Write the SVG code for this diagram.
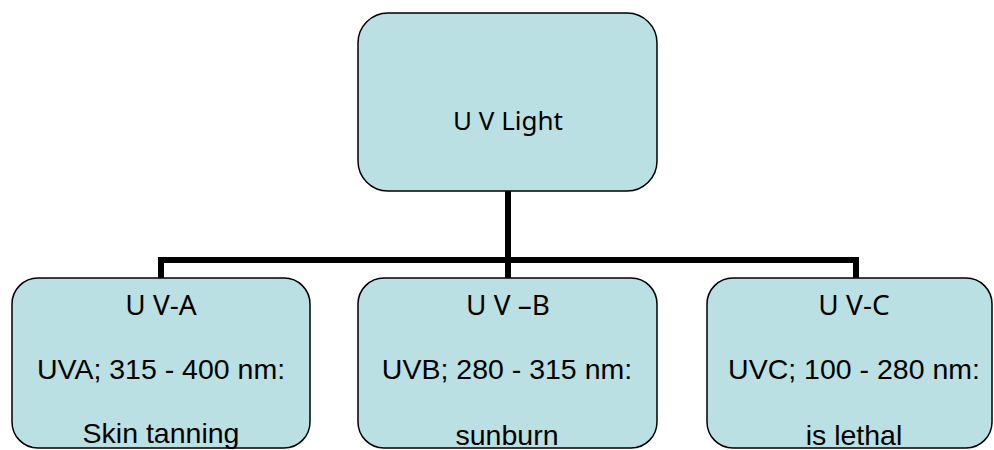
<svg xmlns="http://www.w3.org/2000/svg" width="994" height="450" viewBox="0 0 994 450">
  <style>
    .box { fill: #BBE0E3; stroke: #000; stroke-width: 1.5; }
    .title { font-family: "Noto Sans", "Open Sans", sans-serif; font-size: 28px; fill: #000; text-anchor: middle; }
    .body { font-family: "Liberation Sans", Arial, sans-serif; font-size: 28.5px; fill: #000; text-anchor: middle; }
    .conn { fill: none; stroke: #000; stroke-width: 6; stroke-linecap: butt; stroke-linejoin: miter; }
  </style>
  <rect width="994" height="450" fill="#fff"/>
  <g id="connectors">
    <path class="conn" d="M508 191 V260"/>
    <path class="conn" d="M161 278 V260 H856 V278"/>
    <path class="conn" d="M508 260 V278"/>
  </g>
  <g id="node-uv-light">
    <rect class="box" x="358" y="13" width="299" height="178" rx="30" ry="30"/>
    <text class="title" x="508" y="130" style="font-size:26px">U V Light</text>
  </g>
  <g id="node-uva">
    <rect class="box" x="12" y="278" width="298" height="170" rx="26" ry="26"/>
    <text class="title" x="161" y="315">U V-A</text>
    <text class="body" x="161" y="379">UVA; 315 - 400 nm:</text>
    <text class="body" x="161" y="443">Skin tanning</text>
  </g>
  <g id="node-uvb">
    <rect class="box" x="358" y="278" width="299" height="170" rx="26" ry="26"/>
    <text class="title" x="508" y="315">U V –B</text>
    <text class="body" x="507" y="379">UVB; 280 - 315 nm:</text>
    <text class="body" x="507" y="445">sunburn</text>
  </g>
  <g id="node-uvc">
    <rect class="box" x="707" y="278" width="285" height="170" rx="26" ry="26"/>
    <text class="title" x="854" y="315">U V-C</text>
    <text class="body" x="854" y="379">UVC; 100 - 280 nm:</text>
    <text class="body" x="854" y="445">is lethal</text>
  </g>
</svg>
